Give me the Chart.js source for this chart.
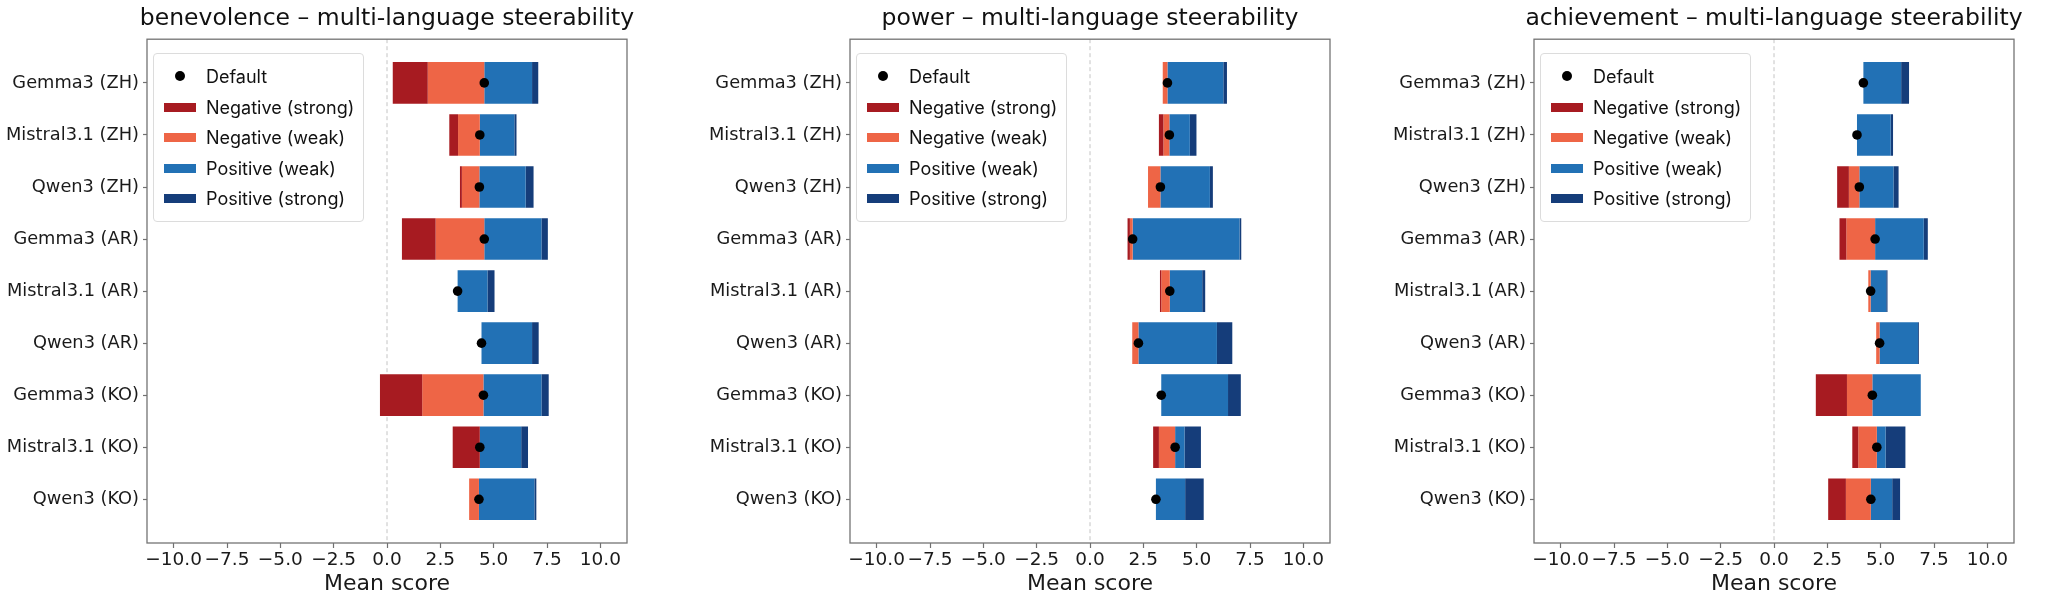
<!DOCTYPE html>
<html>
<head>
<meta charset="utf-8">
<script src="https://cdn.jsdelivr.net/npm/chart.js@4.4.1/dist/chart.umd.min.js"></script>
<style>
    html, body { margin: 0; padding: 0; background: #fff; }
    #wrap { position: relative; width: 2045px; height: 606px; overflow: hidden; }
    #wrap canvas { position: absolute; top: 0; }
    .legend {
        position: absolute;
        border: 1px solid #dcdcdc;
        border-radius: 4px;
        background: rgba(255, 255, 255, 0.8);
        padding: 7px 9px 7px 10px;
        font-family: Inter, "Noto Sans", sans-serif;
        font-size: 18px;
        color: #111;
    }
    .legend .row { height: 30.6px; display: flex; align-items: center; white-space: nowrap; }
    .legend .sw { width: 32px; height: 9px; margin-right: 10px; flex: none; }
    .legend .mk { width: 32px; margin-right: 10px; flex: none; display: flex; justify-content: center; }
    .legend .mk span { width: 10px; height: 10px; border-radius: 50%; background: #000; }
</style>
</head>
<body>
<div id="wrap">
    <canvas id="c0" width="774" height="606"></canvas>
    <canvas id="c1" width="774" height="606"></canvas>
    <canvas id="c2" width="774" height="606"></canvas>
</div>
<script>
// ==============================
// Data
// ==============================
const models = [
    "Gemma3 (ZH)", "Mistral3.1 (ZH)", "Qwen3 (ZH)",
    "Gemma3 (AR)", "Mistral3.1 (AR)", "Qwen3 (AR)",
    "Gemma3 (KO)", "Mistral3.1 (KO)", "Qwen3 (KO)"
];
const xTicks = [-10, -7.5, -5, -2.5, 0, 2.5, 5, 7.5, 10];
const panelTitles = [
    "benevolence \u2013 multi-language steerability",
    "power \u2013 multi-language steerability",
    "achievement \u2013 multi-language steerability"
];
const seriesNames = ["Default", "Negative (strong)", "Negative (weak)", "Positive (weak)", "Positive (strong)"];
const seriesColors = ["#000000", "#a71b21", "#ee6546", "#2271b5", "#153d7a"];

// benevolence
const benDefault   = [4.56, 4.35, 4.33, 4.56, 3.31, 4.43, 4.52, 4.35, 4.31];
const benNegStrong = [0.27, 2.92, 3.42, 0.70, 3.31, 4.43, -0.33, 3.08, 3.85];
const benNegWeak   = [1.91, 3.33, 3.51, 2.28, 3.31, 4.43, 1.65, 4.35, 3.85];
const benPosWeak   = [6.80, 5.97, 6.50, 7.24, 4.71, 6.80, 7.24, 6.29, 6.91];
const benPosStrong = [7.09, 6.07, 6.87, 7.54, 5.04, 7.11, 7.58, 6.61, 7.00];

// power
const powDefault   = [3.63, 3.72, 3.30, 2.00, 3.74, 2.27, 3.34, 3.99, 3.09];
const powNegStrong = [3.41, 3.23, 2.72, 1.76, 3.28, 1.98, 3.34, 2.96, 3.09];
const powNegWeak   = [3.41, 3.44, 2.72, 1.87, 3.34, 1.98, 3.34, 3.23, 3.09];
const powPosWeak   = [6.25, 4.68, 5.62, 7.01, 5.26, 5.95, 6.47, 4.43, 4.46];
const powPosStrong = [6.42, 4.99, 5.76, 7.09, 5.40, 6.67, 7.07, 5.20, 5.33];

// achievement
const achDefault   = [4.19, 3.89, 4.00, 4.74, 4.53, 4.95, 4.61, 4.82, 4.54];
const achNegStrong = [4.19, 3.89, 2.96, 3.07, 4.42, 4.79, 1.96, 3.67, 2.54];
const achNegWeak   = [4.19, 3.89, 3.51, 3.39, 4.42, 4.79, 3.42, 3.95, 3.37];
const achPosWeak   = [5.96, 5.47, 5.60, 7.02, 5.26, 6.75, 6.88, 5.23, 5.54];
const achPosStrong = [6.33, 5.58, 5.84, 7.21, 5.32, 6.79, 6.88, 6.16, 5.91];

// ==============================
// Layout
// ==============================
const panelLeft = [147, 850, 1534];
const yAxisWidth = 147;

Chart.defaults.font.family = "'DejaVu Sans', sans-serif";
Chart.defaults.color = "#1a1a1a";

// frame + dashed zero line
const framePlugin = {
    id: "frame",
    beforeDatasetsDraw(chart) {
        const { ctx, chartArea, scales } = chart;
        const x0 = scales.x.getPixelForValue(0);
        ctx.save();
        ctx.strokeStyle = "#c4c4c4";
        ctx.lineWidth = 1;
        ctx.setLineDash([4, 3]);
        ctx.beginPath();
        ctx.moveTo(x0, chartArea.top);
        ctx.lineTo(x0, chartArea.bottom);
        ctx.stroke();
        ctx.restore();
    },
    afterDraw(chart) {
        const { ctx, chartArea } = chart;
        ctx.save();
        ctx.strokeStyle = "#737373";
        ctx.lineWidth = 1.3;
        ctx.strokeRect(chartArea.left, chartArea.top,
            chartArea.right - chartArea.left, chartArea.bottom - chartArea.top);
        ctx.restore();
    }
};

function segment(from, to) {
    return models.map((m, i) => ({ y: i, x: [from[i], to[i]] }));
}

function barSet(label, color, data) {
    return {
        type: "bar",
        label: label,
        indexAxis: "y",
        grouped: false,
        order: 1,
        data: data,
        backgroundColor: color,
        borderWidth: 0,
        barPercentage: 0.8,
        categoryPercentage: 1.0
    };
}

function renderPanel(idx, def, negStrong, negWeak, posWeak, posStrong) {
    const canvas = document.getElementById("c" + idx);
    canvas.style.left = (panelLeft[idx] - yAxisWidth) + "px";

    const chart = new Chart(canvas, {
        type: "bar",
        data: {
            datasets: [
                {
                    type: "scatter",
                    label: seriesNames[0],
                    order: 0,
                    data: models.map((m, i) => ({ x: def[i], y: i })),
                    backgroundColor: seriesColors[0],
                    borderWidth: 0,
                    pointRadius: 4.8
                },
                barSet(seriesNames[1], seriesColors[1], segment(negStrong, negWeak)),
                barSet(seriesNames[2], seriesColors[2], segment(negWeak, def)),
                barSet(seriesNames[3], seriesColors[3], segment(def, posWeak)),
                barSet(seriesNames[4], seriesColors[4], segment(posWeak, posStrong))
            ]
        },
        options: {
            responsive: false,
            animation: false,
            layout: { padding: 0 },
            plugins: {
                legend: { display: false },
                tooltip: { enabled: false },
                title: {
                    display: true,
                    text: panelTitles[idx],
                    font: { size: 23.5, weight: "normal" },
                    color: "#111",
                    padding: { top: 4.5, bottom: 6.5 }
                }
            },
            scales: {
                x: {
                    type: "linear",
                    min: -10,
                    max: 10,
                    afterBuildTicks: s => { s.ticks = xTicks.map(v => ({ value: v })); },
                    afterFit: s => { s.height = 63; },
                    ticks: {
                        callback: v => (v < 0 ? "\u2212" : "") + Math.abs(v).toFixed(1),
                        font: { size: 18.5 },
                        padding: 1,
                        maxRotation: 0,
                        autoSkip: false
                    },
                    grid: { drawOnChartArea: false, offset: false, tickLength: 5, tickColor: "#707070", tickWidth: 1.2 },
                    border: { display: false },
                    title: {
                        display: true,
                        text: "Mean score",
                        font: { size: 22 },
                        padding: { top: 2, bottom: 9 }
                    }
                },
                y: {
                    type: "linear",
                    reverse: true,
                    offset: false,
                    min: -0.84,
                    max: 8.84,
                    afterBuildTicks: s => { s.ticks = models.map((m, i) => ({ value: i })); },
                    afterFit: s => { s.width = yAxisWidth; },
                    ticks: {
                        callback: v => models[v],
                        font: { size: 17.8 },
                        padding: 4,
                        autoSkip: false
                    },
                    grid: { drawOnChartArea: false, offset: false, tickLength: 4, tickColor: "#707070", tickWidth: 1.2 },
                    border: { display: false }
                },
                // empty right-hand box so the title centres over the plot
                yRight: {
                    type: "linear",
                    position: "right",
                    min: -0.84,
                    max: 8.84,
                    afterFit: s => { s.width = yAxisWidth; },
                    ticks: { display: false },
                    grid: { display: false },
                    border: { display: false }
                }
            }
        },
        plugins: [framePlugin]
    });

    // legend box in the upper left of the plot
    const legend = document.createElement("div");
    legend.className = "legend";
    legend.style.left = (panelLeft[idx] + 6) + "px";
    legend.style.top = (chart.chartArea.top + 14) + "px";
    seriesNames.forEach((name, i) => {
        const row = document.createElement("div");
        row.className = "row";
        const mark = document.createElement("div");
        if (i === 0) {
            mark.className = "mk";
            mark.appendChild(document.createElement("span"));
        } else {
            mark.className = "sw";
            mark.style.background = seriesColors[i];
        }
        const text = document.createElement("span");
        text.textContent = name;
        row.appendChild(mark);
        row.appendChild(text);
        legend.appendChild(row);
    });
    document.getElementById("wrap").appendChild(legend);
}

renderPanel(0, benDefault, benNegStrong, benNegWeak, benPosWeak, benPosStrong);
renderPanel(1, powDefault, powNegStrong, powNegWeak, powPosWeak, powPosStrong);
renderPanel(2, achDefault, achNegStrong, achNegWeak, achPosWeak, achPosStrong);
</script>
</body>
</html>
